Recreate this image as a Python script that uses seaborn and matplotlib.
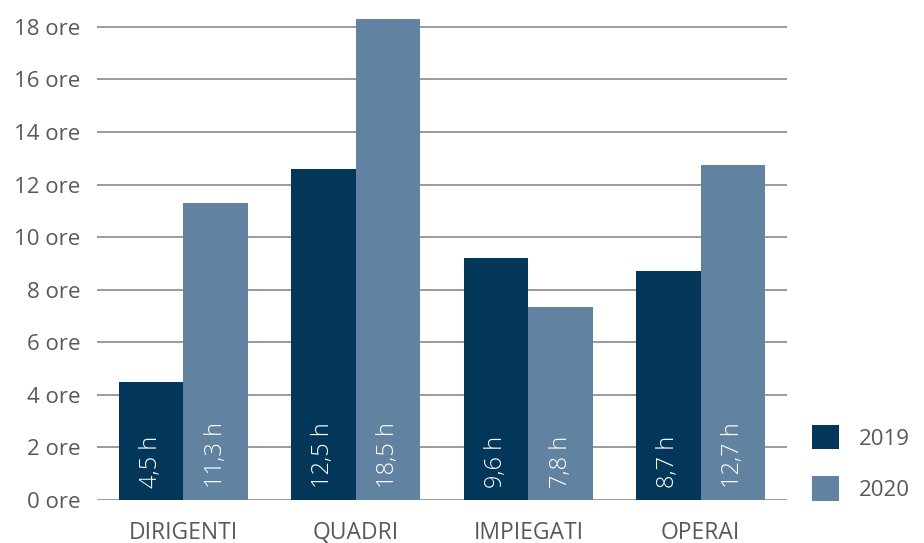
import matplotlib
matplotlib.use("Agg")
import matplotlib.pyplot as plt
import seaborn as sns
import pandas as pd
from matplotlib.patches import Patch

categories = ["DIRIGENTI", "QUADRI", "IMPIEGATI", "OPERAI"]
years = ["2019", "2020"]
values_2019 = [4.5, 12.6, 9.2, 8.7]
values_2020 = [11.3, 18.3, 7.35, 12.75]
labels_2019 = ["4,5 h", "12,5 h", "9,6 h", "8,7 h"]
labels_2020 = ["11,3 h", "18,5 h", "7,8 h", "12,7 h"]
yticks = [0, 2, 4, 6, 8, 10, 12, 14, 16, 18]
ytick_labels = [f"{v} ore" for v in yticks]
colors = ["#03375a", "#6282a1"]

df = pd.DataFrame({
    "cat": categories * 2,
    "year": [years[0]] * 4 + [years[1]] * 4,
    "val": values_2019 + values_2020,
})

sns.set_style("white")
plt.rcParams["font.family"] = ["Open Sans", "DejaVu Sans"]

fig = plt.figure(figsize=(9.24, 5.43), dpi=100)
ax = fig.add_axes([97 / 924, 43 / 543, 690 / 924, 481 / 543])

sns.barplot(data=df, x="cat", y="val", hue="year", palette=colors,
            width=0.75, order=categories, hue_order=years, ax=ax,
            legend=False, saturation=1, linewidth=0, zorder=3)

ax.set_xlim(-0.5, 3.5)
ax.set_ylim(0, 18.3)
ax.set_yticks(yticks)
ax.set_yticklabels(ytick_labels)
ax.set_xlabel("")
ax.set_ylabel("")
for s in ax.spines.values():
    s.set_visible(False)
ax.yaxis.grid(True, color="#8a8a8a", linewidth=1.2, zorder=0)
ax.set_axisbelow(True)
ax.tick_params(axis="y", length=0, pad=12, labelsize=16, labelcolor="#595959")
ax.tick_params(axis="x", length=0, pad=15, labelsize=16.5, labelcolor="#595959")

all_labels = [labels_2019, labels_2020]
for ci, cont in enumerate(ax.containers):
    for bar, lab in zip(cont.patches, all_labels[ci]):
        cx = bar.get_x() + bar.get_width() / 2
        ax.text(cx, 0.45, lab, rotation=90, ha="center", va="bottom",
                color="white", fontsize=17, fontweight="light", zorder=5)

handles = [Patch(facecolor=c, edgecolor="none") for c in colors]
fig.legend(handles, years, loc="lower left", bbox_to_anchor=(792 / 924, 22 / 543),
           frameon=False, fontsize=16, labelcolor="#595959",
           handlelength=1.2, handleheight=1.3, labelspacing=1.2,
           handletextpad=0.9)

fig.savefig("out.png", dpi=100)
